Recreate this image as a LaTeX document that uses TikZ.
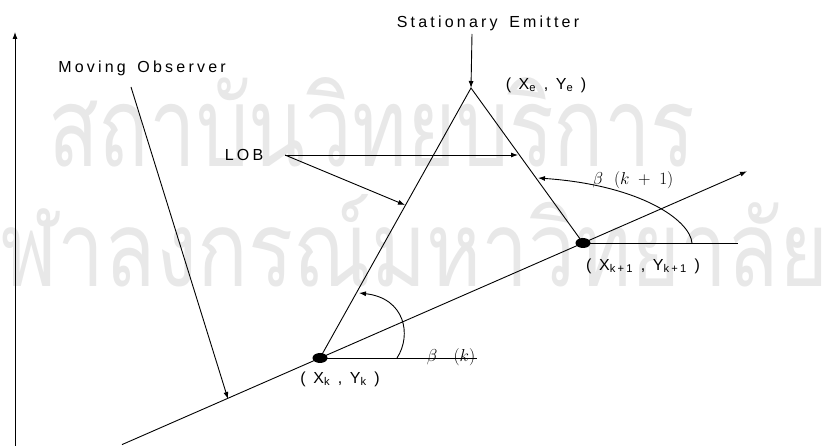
\documentclass[tikz,border=0pt]{standalone}
\usepackage{fontspec}
\usetikzlibrary{arrows.meta,shapes.geometric}
\newfontfamily\lsf[LetterSpace=20]{Liberation Sans}
\newfontfamily\thaifont[Script=Thai]{Loma}
\begin{document}
\begin{tikzpicture}[x=1pt,y=-1pt,
  ln/.style={line width=0.9pt, black},
  arr/.style={-{Latex[length=7pt,width=5pt]}},
  lbl/.style={inner sep=0pt, font=\lsf\fontsize{16}{18}\selectfont},
  ml/.style={inner sep=0pt, font=\fontsize{18}{20}\selectfont},
  dot/.style={ellipse, fill=black, minimum width=15pt, minimum height=10pt, inner sep=0pt},
  wm/.style={inner sep=0pt, text=black!9}]
\useasboundingbox (0,0) rectangle (828,446);
% watermark
\node[wm, anchor=base west] (wm1) at (48,167) {\resizebox{647pt}{89pt}{\thaifont สถาบันวิทยบริการ}};
\node[wm, anchor=base west] (wm2) at (0,287) {\resizebox{828pt}{92pt}{\thaifont ฬาลงกรณ์มหาวิทยาลัย}};
% points
\coordinate (ax0) at (15,446);
\coordinate (ax1) at (15,32);
\coordinate (obs0) at (122,444.6);
\coordinate (obs1) at (747,171.3);
\node[dot] (k) at (320,358) {};
\node[dot] (k1) at (583,243) {};
\coordinate (e) at (471,88);
\coordinate (kh) at (477,358);
\coordinate (k1h) at (738,243);
\coordinate (ses) at (472,34);
\coordinate (lobs) at (285,155);
\coordinate (lob1) at (518,155);
\coordinate (lob2) at (405,205);
\coordinate (mos) at (131,87);
\coordinate (moe) at (228,399);
% labels
\node[lbl] (mo) at (142,68) {Moving\hspace{4pt} Observer};
\node[lbl] (se) at (488,23) {Stationary\hspace{4pt} Emitter};
\node[lbl] (lob) at (244,155) {LOB};
\node[lbl] (le) at (546,85) {( X\textsubscript{e} , Y\textsubscript{e} )};
\node[lbl] (lk1) at (643,266) {( X\textsubscript{k+1} , Y\textsubscript{k+1} )};
\node[lbl] (lk) at (340,379) {( X\textsubscript{k} , Y\textsubscript{k} )};
% lines
\draw[ln,arr] (ax0) -- (ax1);
\draw[ln,arr] (obs0) -- (obs1);
\draw[ln] (k.center) -- (e) -- (k1.center);
\draw[ln] (k.center) -- (kh);
\draw[ln] (k1.center) -- (k1h);
\draw[ln,arr] (ses) -- (e);
\draw[ln,arr] (lobs) -- (lob1);
\draw[ln,arr] (lobs) -- (lob2);
\draw[ln,arr] (mos) -- (moe);
\draw[ln,arr] (397,358) .. controls (412,335) and (405,298) .. (359,293);
\draw[ln,arr] (692,243) .. controls (690,220) and (640,185) .. (538,178);
\node[ml] (bk) at (451,357) {$\beta$\ \ \ $(k)$};
\node[ml] (bk1) at (633,180) {$\beta$\ \ $(k\;+\;1)$};
\end{tikzpicture}
\end{document}
